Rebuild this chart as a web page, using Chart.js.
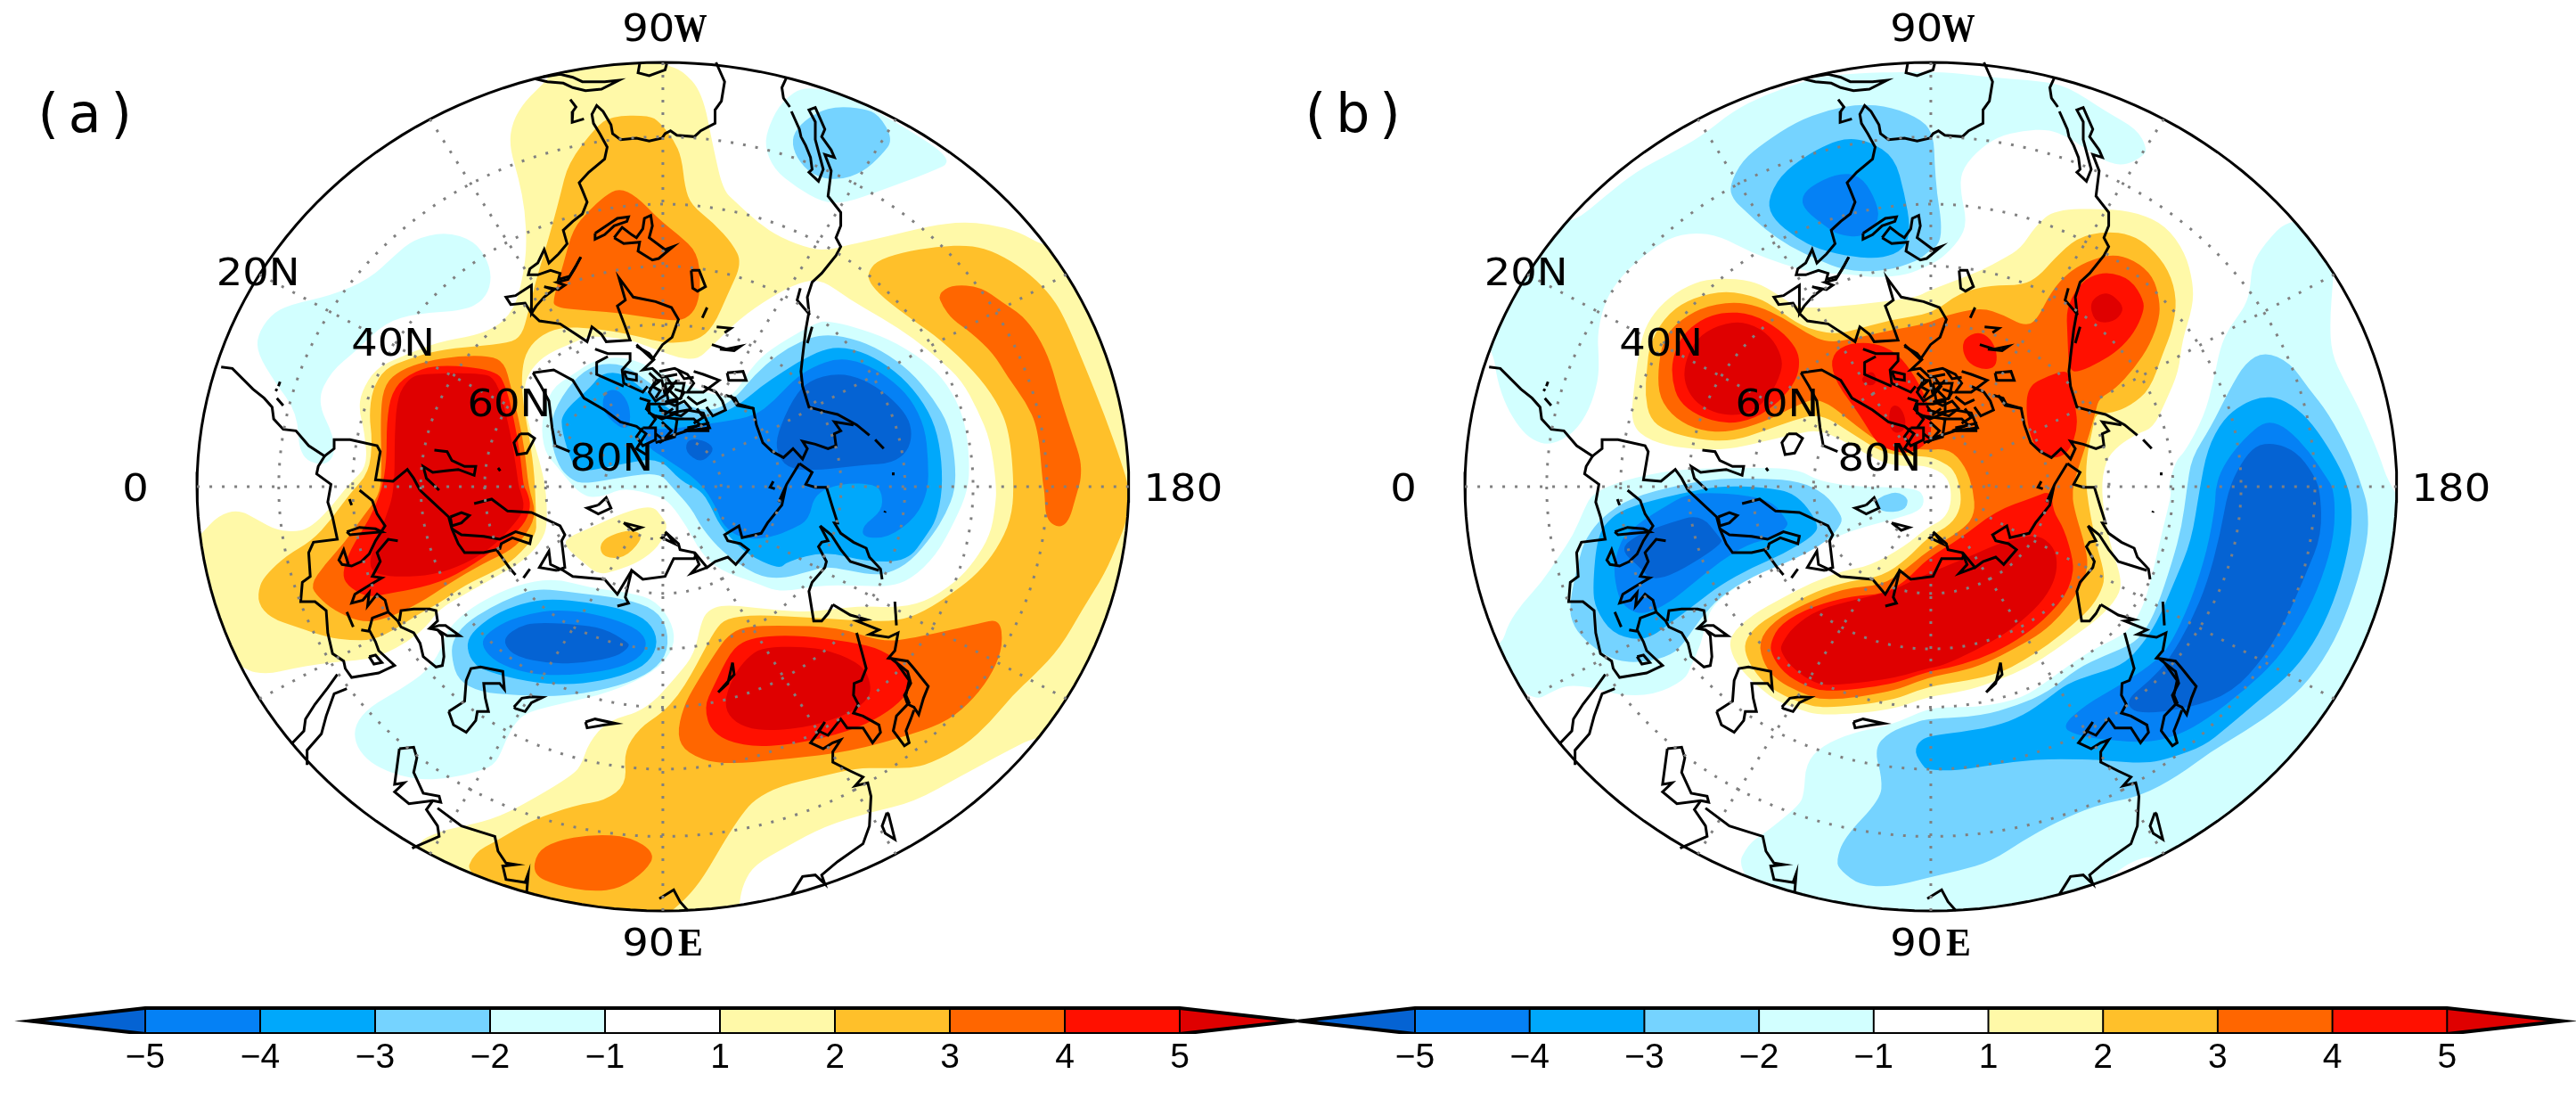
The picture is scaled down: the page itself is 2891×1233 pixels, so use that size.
<!DOCTYPE html>
<html>
<head>
<meta charset="utf-8">
<title>Polar anomaly maps</title>
<script src="https://cdn.jsdelivr.net/npm/chart.js@4/dist/chart.umd.min.js"></script>
<style>
html, body { margin: 0; background: #fff; }
canvas { position: absolute; }
</style>
</head>
<body>
<canvas id="mapA" style="left:0;top:0"></canvas>
<canvas id="mapB" style="left:1423px;top:0"></canvas>
<canvas id="barA" style="left:0;top:1110px"></canvas>
<canvas id="barB" style="left:1457px;top:1110px"></canvas>
<script>
// colour bar
const barLabels = ['\u22125', '\u22124', '\u22123', '\u22122', '\u22121', '1', '2', '3', '4', '5'];
const barColors = ['#0581f5', '#00a8fb', '#75d3ff', '#d2ffff', '#ffffff', '#fff9a8', '#ffc02a', '#ff6600', '#ff1000'];
const lowEndColor = '#0563d3', highEndColor = '#df0000';

// map labels
const ringLabels = ['20N', '40N', '60N', '80N'];
const sideLabels = ['0', '180'];
const ringLats = [30, 40, 50, 60, 70, 80];
const meridians = [0, 30, 60, 90, 120, 150, 180, 210, 240, 270, 300, 330];

// panel (a) filled contours, flat x,y lists on the map plane
const aP1 = [
 [1150,130,1200,60,1532,40,1532,70,1582,85,1647,160,1682,350,1712,490,1752,530,1822,600,1892,650,1992,690,2052,690,2082,680,2212,650,2362,610,2462,597,2552,605,2642,630,2722,680,3100,800,3100,2300,2712,2320,2602,2380,2462,2460,2312,2550,2172,2585,2032,2630,1912,2700,1812,2760,1777,2820,1762,2890,1762,3000,700,3000,735,2690,830,2645,900,2630,1010,2600,1130,2530,1230,2465,1265,2430,1290,2350,1350,2275,1470,2240,1572,2120,1622,2050,1642,1950,1662,1905,1712,1885,1812,1895,1892,1905,1982,1910,2052,1900,2152,1890,2242,1895,2342,1880,2442,1810,2502,1740,2552,1650,2567,1560,2572,1488,2552,1330,2512,1230,2462,1130,2392,1060,2312,990,2212,920,2112,860,2022,790,1952,800,1862,850,1762,925,1672,1020,1632,1060,1572,1055,1512,1030,1410,990,1290,980,1250,1000,1160,1040,1110,1090,1085,1150,1095,1250,1115,1330,1135,1400,1155,1490,1160,1600,1150,1660,1090,1735,1000,1790,900,1850,820,1900,780,1960,720,2010,650,2050,590,2070,530,2075,440,2085,360,2100,280,2120,205,2105,100,2000,20,1700,70,1650,125,1585,190,1565,250,1600,310,1635,380,1640,420,1620,470,1570,540,1475,595,1420,585,1300,568,1230,575,1170,620,1090,700,1050,820,1000,930,980,1000,950,1040,910,1065,860,1085,770,1095,680,1090,560,1070,450,1040,340,1050,260,1090,190],
 [1220,1660,1300,1625,1400,1575,1490,1550,1520,1590,1540,1620,1510,1690,1450,1740,1380,1770,1320,1785,1270,1740,1215,1690]
];
const aP2 = [
 [1360,240,1480,238,1512,260,1557,320,1582,380,1592,480,1612,540,1682,600,1742,670,1772,735,1727,840,1682,950,1632,995,1562,1005,1512,1000,1420,975,1310,955,1200,950,1130,985,1090,1040,1078,1120,1085,1220,1105,1330,1120,1450,1125,1600,1125,1650,1060,1730,1000,1770,900,1820,820,1880,750,1920,680,1970,610,2005,540,2005,470,1995,370,1960,290,1930,250,1880,255,1820,280,1780,340,1720,420,1670,480,1600,540,1510,600,1440,610,1330,600,1250,610,1160,650,1090,720,1060,810,1030,930,1015,1040,1005,1080,980,1100,900,1125,790,1165,650,1200,510,1225,400,1310,280],
 [2167,770,2192,730,2272,700,2382,680,2492,675,2572,700,2662,760,2732,830,2782,910,2852,1090,2912,1250,2962,1400,2990,1500,2982,1600,2952,1680,2912,1780,2842,1900,2772,2030,2692,2120,2622,2190,2552,2280,2472,2360,2362,2420,2302,2435,2212,2435,2132,2435,2012,2465,1892,2495,1812,2540,1772,2590,1722,2670,1652,2800,1597,2875,1512,2950,1300,3000,900,2800,930,2720,1000,2680,1110,2610,1250,2560,1340,2545,1410,2490,1400,2380,1450,2300,1520,2250,1572,2190,1612,2120,1642,2060,1687,1970,1722,1930,1812,1920,1912,1925,2012,1930,2152,1940,2262,1940,2342,1910,2442,1840,2512,1780,2572,1700,2617,1600,2627,1488,2612,1300,2572,1200,2502,1100,2392,990,2312,930,2212,850,2172,800],
 [1325,1670,1400,1635,1450,1640,1455,1670,1400,1730,1330,1725]
];
const aP3 = [
 [1385,483,1440,510,1512,590,1572,640,1632,700,1642,800,1632,880,1597,925,1542,930,1400,905,1290,895,1180,885,1180,850,1210,740,1240,620,1290,560,1340,510],
 [780,1065,880,1048,980,1048,1025,1070,1045,1150,1070,1260,1090,1370,1100,1488,1125,1575,1100,1640,1050,1700,960,1745,850,1815,760,1880,650,1935,575,1945,490,1905,440,1860,415,1820,460,1750,520,1680,580,1590,630,1520,640,1450,635,1230,650,1140,700,1095],
 [2387,840,2432,808,2522,815,2592,870,2652,910,2702,980,2742,1070,2772,1190,2812,1320,2837,1400,2837,1460,2827,1500,2792,1630,2727,1610,2722,1500,2717,1480,2702,1290,2662,1200,2607,1120,2562,1040,2492,970,2432,925,2402,880],
 [1777,1958,1897,1955,2072,1960,2212,2010,2302,2000,2512,1950,2582,1932,2592,2020,2562,2110,2502,2200,2422,2275,2312,2320,2112,2380,1912,2405,1702,2425,1597,2385,1567,2325,1587,2230,1622,2160,1692,2040,1727,1990],
 [1185,2680,1300,2658,1420,2665,1500,2722,1470,2780,1390,2840,1300,2852,1190,2830,1115,2795,1125,2720]
];
const aP4 = [
 [815,1075,1000,1095,1030,1150,1055,1260,1075,1380,1085,1488,1095,1500,1110,1555,1085,1620,1020,1680,900,1770,800,1820,650,1850,590,1860,530,1820,515,1780,540,1700,600,1600,640,1500,655,1400,655,1270,670,1170,720,1110],
 [1852,1990,1962,1990,2112,2010,2212,2035,2292,2100,2302,2150,2282,2200,2212,2260,2112,2310,1942,2355,1782,2365,1677,2320,1652,2230,1682,2160,1737,2040,1782,2005]
];
const aP5 = [
 [760,1108,960,1105,1000,1130,1030,1240,1055,1370,1070,1488,1075,1500,1090,1560,1060,1610,990,1690,900,1750,800,1785,700,1792,630,1785,600,1760,610,1700,650,1600,680,1500,680,1300,690,1180,725,1125],
 [1842,2030,1952,2025,2052,2040,2152,2090,2177,2150,2172,2200,2112,2250,1992,2295,1862,2310,1782,2300,1727,2260,1717,2200,1752,2110,1802,2050]
];
const aN1 = [
 [840,630,930,660,975,730,985,800,960,860,900,895,750,905,650,935,560,1030,480,1100,435,1200,490,1320,490,1390,450,1420,380,1385,375,1240,300,1130,250,1040,248,980,290,910,350,875,480,845,600,790,680,710,740,655],
 [1972,135,2112,180,2272,270,2442,390,2362,430,2212,490,2092,535,2022,530,1942,480,1872,420,1842,340,1857,270,1897,190],
 [1170,1160,1240,1110,1310,1060,1400,1050,1500,1090,1600,1150,1720,1190,1752,1170,1812,1070,1882,1010,2007,935,2042,930,2122,950,2232,990,2342,1060,2417,1140,2472,1260,2487,1400,2482,1500,2442,1600,2382,1720,2302,1800,2232,1825,2132,1820,2012,1820,1892,1845,1812,1810,1702,1770,1642,1710,1597,1620,1547,1545,1512,1520,1400,1490,1340,1520,1270,1525,1190,1420,1150,1370,1140,1270],
 [1180,1795,1300,1830,1420,1845,1500,1870,1555,1950,1560,2030,1500,2110,1360,2180,1200,2220,1100,2245,1060,2280,1030,2340,1000,2420,950,2445,850,2470,750,2475,650,2445,590,2405,555,2350,555,2290,600,2230,700,2170,780,2110,825,2040,840,1980,890,1920,960,1870,1060,1820]
];
const aN2 = [
 [2072,208,2152,215,2202,235,2247,320,2212,370,2152,430,2072,458,1992,440,1942,380,1927,320,1952,270,2012,225],
 [1175,1240,1240,1130,1310,1075,1400,1075,1470,1130,1560,1200,1672,1240,1752,1190,1812,1110,1882,1045,1952,1000,2022,975,2112,985,2212,1030,2302,1100,2372,1190,2422,1280,2442,1400,2442,1500,2412,1580,2372,1650,2302,1740,2232,1780,2172,1785,2042,1755,1992,1770,1892,1800,1812,1785,1712,1710,1647,1630,1612,1560,1552,1490,1512,1440,1400,1455,1270,1480,1230,1460,1195,1420,1170,1330],
 [1130,1830,1250,1845,1400,1865,1500,1900,1540,1970,1535,2060,1470,2125,1350,2170,1200,2195,1060,2190,950,2180,880,2140,860,2070,860,2010,900,1950,980,1895,1060,1855]
];
const aN3 = [
 [1205,1240,1300,1150,1330,1105,1400,1105,1470,1170,1560,1240,1612,1270,1712,1240,1772,1205,1832,1150,1902,1100,1962,1060,2052,1015,2142,1030,2232,1080,2312,1160,2372,1260,2397,1370,2402,1500,2382,1600,2352,1650,2292,1740,2162,1740,2032,1705,1912,1740,1892,1765,1812,1730,1762,1690,1702,1620,1672,1550,1642,1500,1580,1470,1512,1390,1400,1410,1270,1440,1240,1420,1205,1300],
 [1170,1865,1290,1878,1400,1900,1480,1940,1510,2010,1480,2080,1400,2125,1260,2155,1130,2150,1000,2120,930,2090,905,2030,920,1980,990,1920,1080,1880]
];
const aN4 = [
 [1512,1300,1712,1270,1812,1250,1872,1200,1932,1130,1992,1085,2072,1055,2152,1070,2232,1120,2302,1190,2347,1290,2357,1400,2357,1500,2320,1590,2232,1660,2152,1660,2150,1620,2212,1570,2212,1510,2190,1480,2090,1475,2000,1510,1982,1600,1932,1630,1862,1660,1772,1665,1712,1620,1692,1560,1640,1470,1512,1380,1470,1350,1460,1280],
 [1340,1165,1385,1160,1420,1215,1420,1290,1385,1290,1330,1230],
 [1180,1903,1280,1910,1390,1940,1460,1980,1475,2030,1430,2080,1340,2110,1200,2125,1090,2115,1000,2080,955,2030,960,1990,1030,1940,1110,1915]
];
const aN5 = [
 [2072,1105,2152,1125,2232,1180,2292,1250,2307,1310,2292,1370,2242,1410,2152,1415,1992,1435,1912,1425,1880,1370,1882,1310,1932,1190,1982,1130],
 [1602,1325,1662,1335,1687,1365,1642,1410,1592,1370],
 [1120,1945,1240,1950,1340,1965,1410,2010,1420,2025,1380,2060,1280,2080,1170,2085,1060,2060,1025,2020,1030,1990,1070,1960]
];

// panel (b) filled contours
const bP1 = [
 [860,785,960,795,1020,825,1100,885,1180,885,1250,880,1380,865,1480,850,1512,830,1612,790,1682,760,1752,720,1807,685,1852,610,1912,555,2072,552,2172,565,2262,610,2322,700,2347,800,2347,880,2312,1000,2302,1100,2262,1200,2222,1290,2172,1310,2112,1350,2072,1400,2057,1500,2082,1670,2124,1800,2112,1860,2052,1930,1962,2000,1872,2070,1782,2120,1682,2160,1612,2180,1512,2195,1400,2240,1180,2260,1100,2235,1040,2210,990,2170,930,2110,895,2050,890,1990,960,1920,1060,1860,1150,1810,1250,1770,1330,1755,1440,1690,1512,1625,1562,1600,1587,1550,1585,1480,1560,1440,1496,1415,1420,1420,1356,1400,1276,1350,1176,1295,1100,1310,1040,1325,980,1340,880,1365,750,1360,640,1335,580,1280,590,1150,610,1000,640,920,700,850,780,800]
];
const bP2 = [
 [880,828,980,850,1040,890,1120,950,1210,975,1270,965,1400,925,1530,905,1612,835,1712,810,1812,810,1862,780,1912,720,1982,650,2072,628,2152,640,2212,680,2272,760,2297,860,2282,960,2252,1040,2212,1160,2152,1215,2092,1240,2042,1240,2032,1290,2012,1390,2010,1500,2042,1680,2067,1770,2067,1820,2032,1890,1972,1950,1892,2020,1812,2075,1742,2115,1642,2140,1512,2160,1400,2210,1190,2235,1110,2215,1040,2180,990,2140,945,2070,935,2010,980,1950,1060,1900,1160,1840,1270,1805,1370,1790,1450,1730,1512,1660,1587,1615,1617,1560,1617,1500,1597,1430,1552,1400,1512,1385,1436,1385,1366,1370,1276,1310,1176,1240,1090,1265,1000,1300,900,1335,790,1330,690,1300,640,1260,625,1180,630,1100,640,1000,700,900,780,850]
];
const bP3 = [
 [900,865,980,880,1060,920,1130,970,1200,1005,1300,985,1400,960,1512,940,1572,910,1682,885,1752,910,1812,945,1852,935,1902,830,1952,770,2012,730,2092,705,2162,725,2222,780,2242,860,2242,920,2212,1010,2162,1090,2102,1160,2052,1190,2042,1230,2022,1310,1982,1440,1967,1500,1972,1560,2012,1700,2017,1770,1982,1850,1932,1920,1872,1980,1792,2030,1692,2085,1612,2110,1512,2130,1400,2180,1190,2210,1110,2180,1040,2140,1000,2090,980,2010,1030,1940,1120,1885,1250,1830,1370,1820,1440,1770,1512,1705,1627,1630,1662,1580,1657,1500,1632,1420,1582,1360,1496,1365,1376,1350,1296,1290,1176,1185,1100,1215,1000,1270,890,1305,800,1300,720,1260,670,1190,665,1100,680,1000,720,940,800,885]
];
const bP4 = [
 [870,900,960,905,1050,960,1100,1020,1112,1070,1100,1130,1050,1200,970,1260,880,1278,790,1250,730,1200,710,1130,710,1060,740,980,800,925],
 [1206,1060,1246,1010,1336,1000,1416,1035,1476,1120,1520,1220,1526,1290,1516,1340,1456,1380,1376,1360,1346,1330,1296,1240,1226,1140],
 [1672,965,1712,990,1732,1040,1727,1085,1692,1095,1642,1075,1622,1030,1627,990],
 [2082,765,2152,790,2192,860,2192,900,2162,970,2112,1030,2052,1070,1992,1100,1957,1100,1952,970,1949,890,1982,820,2022,780],
 [1952,1095,1957,1130,1982,1240,1982,1300,1962,1360,1932,1390,1882,1390,1842,1340,1822,1250,1827,1150,1892,1115],
 [1050,1950,1150,1890,1280,1855,1370,1850,1440,1810,1512,1730,1612,1665,1727,1570,1842,1525,1902,1500,1907,1570,1942,1630,1972,1740,1967,1800,1942,1860,1902,1910,1852,1960,1772,2020,1672,2070,1572,2100,1512,2110,1400,2155,1200,2180,1130,2160,1060,2115,1020,2050,1020,2010]
];
const bP5 = [
 [880,935,950,935,1020,980,1055,1050,1055,1100,1020,1180,960,1240,880,1250,800,1220,760,1170,745,1110,760,1040,800,975],
 [1305,1120,1340,1095,1355,1130,1340,1150,1310,1140],
 [1395,1215,1425,1215,1445,1260,1440,1300,1410,1310,1390,1280],
 [2077,830,2122,870,2127,900,2097,935,2042,935,2024,890,2032,855],
 [1055,2015,1090,1960,1170,1900,1300,1865,1400,1840,1512,1780,1642,1725,1732,1680,1852,1645,1912,1690,1922,1760,1902,1830,1852,1900,1762,1980,1662,2040,1562,2090,1512,2100,1400,2135,1200,2160,1140,2140,1080,2090,1050,2040]
];
const bN1 = [
 [400,600,500,510,600,425,700,370,800,310,900,225,1000,170,1110,130,1200,100,1540,88,1702,110,1862,122,1952,140,2072,225,2172,285,2202,350,2192,375,2132,408,2072,395,2002,345,1952,310,1892,285,1812,290,1732,310,1662,365,1617,430,1617,500,1637,600,1612,660,1557,720,1512,745,1450,775,1350,785,1250,770,1160,770,1060,740,960,700,860,645,780,632,700,650,620,710,550,780,500,860,475,970,480,1060,478,1130,450,1230,400,1310,325,1350,270,1330,230,1290,190,1220,160,1130,148,1030,20,800,300,600],
 [175,2020,195,1950,240,1880,300,1810,350,1730,400,1650,435,1560,460,1510,560,1465,720,1430,900,1425,1100,1425,1170,1470,1300,1490,1480,1490,1505,1530,1490,1570,1400,1600,1290,1630,1150,1690,1090,1735,960,1790,840,1880,815,1950,800,2020,770,2090,750,2140,650,2190,540,2190,470,2165,380,2155,330,2180,275,2210,150,2100,120,2020],
 [2647,585,2572,670,2532,740,2527,820,2512,880,2462,950,2432,1020,2412,1130,2382,1250,2322,1370,2292,1400,2267,1500,2282,1500,2252,1630,2222,1770,2192,1890,2142,1980,2052,2025,1982,2070,1892,2140,1812,2200,1682,2230,1572,2230,1512,2235,1400,2290,1280,2315,1180,2360,1130,2420,1125,2520,1110,2560,1000,2655,950,2690,910,2775,1100,3000,1800,3000,2102,2790,2152,2750,2232,2725,2400,2800,3100,2400,3100,1700,2962,1480,2932,1380,2872,1230,2822,1130,2782,1040,2777,930,2787,790,2800,600]
];
const bN2 = [
 [1300,200,1400,210,1500,255,1532,310,1535,400,1542,500,1557,600,1552,670,1512,700,1480,730,1370,765,1250,760,1170,725,1080,680,1000,620,940,560,900,520,890,475,930,390,1000,330,1100,260,1200,220],
 [580,1525,740,1480,860,1460,1000,1460,1110,1470,1190,1510,1240,1580,1245,1610,1200,1670,1100,1730,960,1790,860,1860,800,1930,750,2010,710,2055,620,2080,530,2075,450,2020,400,1960,385,1890,420,1720,440,1660,490,1590],
 [1420,1505,1455,1530,1440,1570,1370,1575,1340,1540,1380,1515],
 [2572,1033,2652,1070,2712,1160,2772,1240,2842,1380,2882,1500,2897,1560,2897,1670,2852,1850,2792,2010,2712,2140,2622,2230,2512,2310,2402,2380,2302,2460,2182,2530,2042,2560,1912,2620,1812,2680,1712,2750,1612,2780,1512,2805,1400,2835,1300,2830,1240,2780,1225,2750,1250,2670,1365,2540,1370,2470,1345,2370,1390,2315,1480,2280,1512,2270,1682,2260,1792,2225,1892,2180,1982,2100,2072,2055,2152,2020,2192,1980,2232,1900,2282,1740,2312,1620,2327,1500,2342,1390,2402,1290,2462,1160,2512,1070]
];
const bN3 = [
 [1260,315,1330,325,1410,380,1440,500,1460,620,1440,690,1370,720,1280,715,1170,690,1100,650,1030,590,1008,530,1050,440,1130,375,1200,335],
 [630,1540,740,1510,860,1485,1000,1490,1100,1510,1170,1610,1160,1650,1060,1715,960,1760,860,1820,800,1870,700,1950,650,1990,600,2005,520,1980,470,1900,460,1830,475,1650,520,1590,570,1560],
 [2562,1185,2622,1190,2692,1240,2752,1320,2812,1430,2837,1500,2847,1560,2842,1670,2802,1840,2742,1990,2662,2110,2562,2200,2452,2300,2382,2360,2282,2400,2202,2420,2072,2410,2012,2405,1852,2405,1712,2425,1592,2445,1512,2440,1500,2430,1470,2380,1490,2340,1530,2325,1612,2315,1722,2295,1812,2260,1892,2200,1952,2150,2032,2120,2122,2090,2172,2040,2232,1950,2292,1800,2342,1670,2367,1500,2392,1360,2442,1260,2502,1210]
];
const bN4 = [
 [1230,432,1300,440,1345,510,1365,590,1310,650,1230,640,1190,610,1130,560,1115,520,1140,480],
 [680,1560,760,1510,880,1510,1020,1530,1070,1600,1075,1620,1030,1660,950,1680,860,1740,780,1810,700,1880,620,1920,570,1900,540,1860,525,1760,540,1700,560,1650,620,1600],
 [2587,1267,2642,1290,2712,1370,2762,1450,2792,1500,2792,1650,2752,1800,2692,1940,2612,2070,2512,2170,2392,2270,2302,2325,2202,2350,2072,2340,1982,2325,1932,2295,2012,2220,2112,2160,2212,2090,2272,2030,2342,1870,2392,1700,2417,1550,2417,1500,2432,1440,2472,1370,2542,1290]
];
const bN5 = [
 [800,1580,860,1660,870,1675,800,1730,700,1790,640,1800,610,1760,545,1700,600,1650,700,1610],
 [2602,1340,2672,1370,2722,1440,2747,1500,2752,1650,2702,1780,2642,1930,2572,2060,2472,2180,2332,2235,2172,2255,2132,2210,2212,2140,2272,2070,2342,1940,2392,1810,2432,1650,2457,1500,2497,1410,2542,1350]
];

// coastlines shared by both panels
const coastLines = [
 [1120,115,1160,125,1210,130,1240,145,1280,155,1330,150,1385,120,1340,125,1270,125,1240,110,1200,100,1140,110],
 [1450,65,1445,95,1480,105,1530,85,1535,65],
 [1232,185,1250,210,1240,225,1238,262,1275,250],
 [1690,60,1717,125,1707,190,1687,220,1687,265,1642,290,1622,310,1567,305,1547,290,1530,300,1520,315,1480,325,1440,315,1390,320,1365,300,1360,270,1335,225,1315,205,1300,235,1305,265,1325,300,1348,345,1340,385,1290,430,1260,465,1270,490,1285,530,1270,570,1240,595,1210,625,1222,670,1195,705,1165,735,1150,690,1130,735,1105,755,1100,775,1130,775,1170,760,1200,770,1195,790,1230,780,1250,745,1265,715],
 [1265,715,1245,755,1225,790,1190,800,1215,810,1195,825,1150,815,1180,825,1150,850,1125,880,1110,905,1110,810,1060,845,1030,850,1045,875,1090,870,1110,905,1135,930,1200,940,1250,975,1285,1000,1300,950,1330,975,1345,1000,1420,995,1405,950,1380,880,1405,860,1385,785,1430,850,1500,865,1550,885,1572,925,1552,985,1522,1010,1490,1060,1440,1010],
 [1310,635,1380,585,1415,580,1410,595,1370,610,1340,640,1310,655,1310,635],
 [1370,650,1395,615,1425,640,1440,650,1460,620,1465,585,1485,575,1490,610,1480,650,1530,690,1555,680,1510,720,1490,725,1445,695,1450,665,1400,670,1370,650],
 [1612,760,1637,760,1657,815,1632,830,1617,820,1612,760],
 [1662,885,1647,920],[1692,950,1737,955,1717,970],[1677,1010,1722,1025,1767,1015,1747,1030,1702,1025],
 [1725,1105,1775,1100,1785,1130,1730,1130,1725,1105],
 [1912,110,1897,145,1902,180,1922,210],
 [1927,225,1952,285,1957,310,1972,340,1987,380,1992,420,1982,430,2012,460,2027,420,2002,320,2002,260,1982,220,2002,212,2032,285,2022,310,2052,355,2062,380,2032,370,2052,425,2042,510,2082,565,2082,610,2067,650,2082,680,2067,710,2022,770,1992,800,1977,850,1982,900,1972,960,1962,1050,1957,1100,1962,1150,1982,1220,2032,1235,2072,1245,2132,1280,2172,1315],
 [2190,1330,2217,1360],[1992,950,1977,1005],[1955,820,1945,860,1985,910],
 [1735,1180,1757,1215,1807,1225,1817,1280,1837,1340,1867,1370,1902,1390,1932,1360,1962,1395,1977,1360,1962,1335,2002,1345,2042,1360,2067,1350,2062,1310,2082,1300,2062,1270,2122,1280],
 [1870,1470,1860,1490,1875,1495],[2247,1440,2247,1450],[2222,1570,2220,1575],
 [1952,1410,1992,1440,1972,1480,2002,1490,2037,1490,2057,1560,2072,1610,2062,1610,2082,1645,2122,1675,2162,1695,2172,1725,2207,1765,2212,1800],
 [1952,1410,1912,1480,1887,1540,1907,1500,1897,1550,1852,1610,1832,1645,1772,1660,1762,1620,1717,1650,1727,1670,1767,1680,1792,1700,1752,1750,1727,1725,1687,1740,1662,1760,1627,1715,1622,1730,1557,1730,1530,1790,1460,1800,1425,1770,1405,1860,1415,1880,1380,1890],
 [1425,1770,1380,1850,1340,1800,1240,1790,1210,1770,1170,1750,1165,1705,1135,1760,1190,1770],
 [2017,1620,2052,1650,2082,1700,2112,1740,2202,1770],
 [2017,1620,2042,1670,2022,1675,2012,1690,2037,1740,2032,1760,1992,1810,1982,1840,1997,1940,2022,1940,2042,1915,2057,1885],
 [2252,1875,2257,1955],
 [2057,1885,2112,1920,2162,1935,2132,1940,2202,1970,2172,1985,2232,1995,2262,1980,2252,2040,2232,2065,2292,2075,2312,2100,2357,2160,2342,2200,2327,2255,2312,2230,2292,2220,2282,2190,2302,2150,2292,2110,2232,2060],
 [2257,2080,2297,2140,2287,2190,2297,2215,2257,2260,2247,2310,2282,2360,2297,2350,2287,2310,2302,2270,2312,2240],
 [2132,1980,2152,2060,2162,2100,2147,2140,2124,2150,2122,2190,2137,2220,2122,2250,2152,2260,2202,2290,2207,2315,2182,2350,2152,2300,2102,2300,2082,2270,2042,2325,2012,2310,2032,2280,2012,2315,1987,2350,2027,2370,2057,2350,2082,2340,2057,2380,2057,2415,2112,2445,2152,2465,2127,2495,2167,2485,2177,2530,2172,2630,2152,2690,2072,2750,2022,2795,2032,2825,2002,2795,1962,2800,1927,2860],
 [2227,2585,2212,2630,2222,2655,2252,2675,2232,2590,2227,2585],
 [1742,2080,1747,2120,1697,2180,1727,2150,1742,2080],
 [1512,2875,1557,2845,1577,2885,1602,2915],
 [1530,1640,1572,1680,1577,1700,1622,1710,1637,1750,1612,1780,1662,1760],
 [135,1085,170,1090,235,1160,270,1190,295,1220,300,1260,330,1295,370,1300,410,1350,460,1385,440,1420,435,1445,480,1480,470,1540,485,1590,500,1665,425,1675,410,1710,415,1790,390,1810,385,1875,430,1875,465,1905,470,1980,485,2050,520,2075,525,2100,545,2130,630,2115,680,2090,660,2070,630,2040,620,2010,600,1970,610,1930,660,1910,690,1940,700,1960,740,1980,760,2015,770,2060,810,2095,830,2090,835,2060,830,1990,815,1970,790,1965,815,1940,810,1905,790,1900,740,1900,700,1905,695,1940],
 [460,1385,490,1360,490,1330,540,1330,625,1350,635,1370,620,1465,675,1470,720,1430,740,1460,760,1500],
 [320,1135,315,1150],[305,1160,312,1165],[310,1190,330,1215],
 [805,1365,845,1370,860,1400,900,1420,935,1420,930,1450,880,1430,840,1435,800,1440,770,1420,780,1460,820,1500],
 [760,1500,800,1540,850,1590,860,1630,880,1680,900,1710,960,1710,1000,1700,1040,1760,1060,1785],
 [860,1630,890,1650,960,1655,1010,1665,1060,1640,1110,1655,1105,1680,1050,1660,1015,1680,1010,1700],
 [930,1545,985,1530,1035,1570,1110,1575,1200,1620,1215,1650,1205,1670,1215,1760,1190,1770],
 [855,1590,890,1575,915,1585,890,1610,860,1620,855,1590],
 [1075,1310,1100,1310,1120,1325,1095,1375,1065,1380,1055,1340,1075,1310],[1005,1425,1012,1435],
 [530,1640,570,1625,620,1630,640,1640,590,1645,540,1650,530,1640],
 [570,1500,610,1535,625,1580,650,1620,620,1670,600,1715,575,1740,545,1755,515,1750,505,1735,520,1700,535,1750],
 [690,1670,660,1665,625,1710,635,1740,610,1790,640,1795,600,1820,555,1850,545,1880,580,1870,600,1845,595,1890,625,1850,650,1870,660,1910],
 [530,1910,550,1960],[575,1970,600,1975],[538,1530,545,1550],
 [790,1965,820,1955,840,1955,885,1990,845,1990,815,1970],
 [500,2120,470,2165,430,2220,400,2270,395,2310,355,2355],
 [530,2168,490,2185,465,2260,450,2320,405,2375,405,2425],
 [600,2060,620,2055,640,2080,615,2085,600,2060],
 [695,2370,740,2365,750,2400,740,2450,770,2520,820,2530,825,2550,800,2545,725,2555,680,2515,710,2485,680,2490,690,2410,695,2370],
 [800,2545,780,2575,815,2630,820,2665,735,2705],
 [815,2570,890,2630,950,2650,995,2665,1005,2715,1030,2755,1060,2760,1020,2765,1030,2810,1090,2820,1100,2790,1095,2855],
 [850,2245,900,2210,905,2140,920,2100,950,2095,1020,2110,1025,2170,1010,2150,960,2150,965,2200,975,2245,940,2245,935,2275,905,2315,865,2290,850,2245],
 [1055,2230,1080,2200,1110,2195,1145,2197,1110,2215,1090,2245,1060,2235,1055,2230],
 [1280,2280,1310,2270,1375,2285,1340,2290,1285,2300,1280,2280],
 [1085,1795,1105,1765],
 [1320,1550,1345,1525,1360,1560,1320,1580,1285,1560,1320,1550],
 [1400,1610,1455,1625,1430,1635,1400,1610],
 [1535,1645,1560,1680,1520,1660,1535,1645],
 [1115,1105,1140,1150,1165,1200,1175,1290,1185,1350,1230,1370],
 [1115,1105,1180,1095,1240,1130,1275,1190,1340,1230,1390,1270,1440,1285,1470,1310,1440,1360,1470,1380],
 [1310,1025,1350,1040,1420,1040,1420,1065,1395,1095,1400,1140,1460,1170,1475,1150],
 [1315,1070,1350,1050,1315,1070,1315,1110,1400,1150],
 [1440,1015,1480,1040,1495,1060,1460,1095,1490,1090,1520,1120,1568,1110],
 [1400,1100,1440,1110,1440,1130,1410,1125,1400,1100],
 [1500,1130,1480,1170,1500,1200,1530,1180,1520,1130,1500,1130],
 [1480,1210,1530,1210,1568,1200,1568,1240,1520,1260,1480,1240,1480,1210],
 [1460,1290,1500,1290,1500,1330,1460,1350,1440,1320,1460,1290],
 [1500,1250,1568,1260,1560,1320,1500,1340],
 [1568,1130,1540,1160,1568,1190],
 [1512,1100,1560,1090,1600,1110,1620,1140,1600,1170,1650,1170,1700,1130,1650,1110,1620,1100],
 [1530,1140,1590,1140,1580,1190,1540,1200,1530,1140],
 [1512,1230,1550,1240,1600,1230,1650,1240,1670,1290,1600,1300,1540,1320,1512,1340],
 [1560,1260,1620,1260,1640,1280,1590,1300],
 [1650,1150,1690,1170,1710,1200,1720,1230,1680,1250,1660,1220],
 [1720,1180,1750,1190,1760,1210,1810,1225],
 [1600,1290,1665,1275,1665,1300,1600,1300],
 [1490,1150,1515,1165,1500,1190],[1535,1120,1555,1150,1535,1175],[1510,1215,1530,1245,1555,1225],
 [1530,1200,1560,1215,1590,1200,1610,1225,1580,1250,1545,1240],
 [1470,1225,1500,1260,1480,1290],[1520,1270,1550,1300,1525,1330,1500,1310],
 [1570,1095,1590,1125,1620,1120],[1600,1185,1630,1210,1660,1195],
 [1480,1105,1510,1135,1480,1160],[1450,1190,1480,1200,1470,1230],
 [1560,1160,1590,1170,1575,1195],[1630,1225,1650,1255,1620,1275]
];

// map plane geometry
const POLE_X = 1523, POLE_Y = 1488, RIM_X = 1464, RIM_Y = 1428;
const toPoints = flat => {
  const pts = [];
  for (let i = 0; i < flat.length; i += 2) pts.push({ x: flat[i], y: flat[i + 1] });
  return pts;
};
// stereographic radius, rim is 20N
const ringRadius = lat => Math.tan((90 - lat) / 2 * Math.PI / 180) / Math.tan(35 * Math.PI / 180);
const planePoint = (lat, lon) => {
  const r = ringRadius(lat), a = lon * Math.PI / 180; // 0 on the left, 90W at the top
  return { x: POLE_X - r * RIM_X * Math.cos(a), y: POLE_Y + r * RIM_Y * Math.sin(a) };
};

const fillSet = (color, rings) => rings.map(r => ({
  data: toPoints(r), fillColor: color, showLine: false, pointRadius: 0
}));
const lineSet = (data, color, width, dash) => ({
  data, showLine: true, pointRadius: 0, borderColor: color, borderWidth: width, borderDash: dash || [], fill: false, tension: 0
});

const contourFill = {
  id: 'contourFill',
  beforeDatasetsDraw(chart, args, opts) {
    const ctx = chart.ctx, xs = chart.scales.x, ys = chart.scales.y;
    ctx.save();
    if (opts.rim) {
      const cx = xs.getPixelForValue(POLE_X), cy = ys.getPixelForValue(POLE_Y);
      ctx.beginPath();
      ctx.ellipse(cx, cy, xs.getPixelForValue(POLE_X + RIM_X) - cx, ys.getPixelForValue(POLE_Y + RIM_Y) - cy, 0, 0, Math.PI * 2);
      ctx.clip();
    }
    chart.data.datasets.forEach((ds, i) => {
      if (!ds.fillColor) return;
      const p = chart.getDatasetMeta(i).data, n = p.length;
      ctx.beginPath();
      if (opts.rim) {
        // rounded through the midpoints, the contours are smooth
        ctx.moveTo((p[n - 1].x + p[0].x) / 2, (p[n - 1].y + p[0].y) / 2);
        for (let k = 0; k < n; k++) {
          const q = p[(k + 1) % n];
          ctx.quadraticCurveTo(p[k].x, p[k].y, (p[k].x + q.x) / 2, (p[k].y + q.y) / 2);
        }
      } else {
        p.forEach((q, k) => k ? ctx.lineTo(q.x, q.y) : ctx.moveTo(q.x, q.y));
      }
      ctx.closePath();
      ctx.fillStyle = ds.fillColor;
      ctx.fill();
    });
    ctx.restore();
  }
};

const stretchedText = (ctx, text, x, y, font, sx) => {
  ctx.save();
  ctx.translate(x, y);
  ctx.scale(sx, 1);
  ctx.font = font;
  ctx.fillStyle = '#000';
  ctx.textAlign = 'center';
  ctx.textBaseline = 'middle';
  ctx.fillText(text, 0, 0);
  ctx.restore();
};

const mapText = {
  id: 'mapText',
  afterDatasetsDraw(chart, args, opts) {
    const ctx = chart.ctx, xs = chart.scales.x, ys = chart.scales.y;
    const put = (t, u, v, font, sx) => stretchedText(ctx, t, xs.getPixelForValue(u), ys.getPixelForValue(v), font, sx);
    const sans = '43px "DejaVu Sans"', serif = 'bold 44px "Liberation Serif"';
    [[251, 777], [675, 1014], [1040, 1216], [1362, 1401]].forEach((pos, i) => put(ringLabels[i], pos[0], pos[1], sans, 1.08));
    put(sideLabels[0], -134, 1503, sans, 1.08);
    put(sideLabels[1], 3158, 1503, sans, 1.08);
    put('90', 1478, -45, sans, 1.08);
    put('W', 1610, -45, serif, 0.85);
    put('90', 1478, 3031, sans, 1.08);
    put('E', 1610, 3031, serif, 0.95);
    ctx.save();
    ctx.letterSpacing = '11px';
    put(opts.tag, -278, 246, '60px "DejaVu Sans"', 1);
    ctx.restore();
  }
};

function drawMap(id, width, levels, tag) {
  const datasets = [];
  // grid on top of the coast, coast on top of the fills
  ringLats.forEach(lat => {
    const pts = [];
    for (let lon = 0; lon <= 360; lon += 2) pts.push(planePoint(lat, lon));
    datasets.push(lineSet(pts, '#808080', 3, [3, 11]));
  });
  meridians.forEach(lon => {
    const top = lon % 90 === 0 ? 89.9 : 80;
    const pts = [];
    for (let lat = 20; lat <= top; lat += 2) pts.push(planePoint(lat, lon));
    pts.push(planePoint(top, lon));
    datasets.push(lineSet(pts, '#808080', 3, [3, 11]));
  });
  coastLines.forEach(c => datasets.push(lineSet(toPoints(c), '#000', 3)));
  const rim = [];
  for (let lon = 0; lon <= 360; lon += 2) rim.push(planePoint(20, lon));
  datasets.push(lineSet(rim, '#000', 3));
  levels.forEach(l => datasets.push(...fillSet(l[0], l[1])));

  const canvas = document.getElementById(id);
  canvas.width = width;
  canvas.height = 1110;
  new Chart(canvas, {
    type: 'scatter',
    data: { datasets },
    options: {
      responsive: false, animation: false, devicePixelRatio: 1,
      layout: { padding: 0 },
      plugins: { legend: { display: false }, tooltip: { enabled: false }, contourFill: { rim: true }, mapText: { tag } },
      scales: {
        x: { display: false, min: -560, max: -560 + width * 2.8 },
        y: { display: false, reverse: true, min: -150, max: 3180 }
      }
    },
    plugins: [contourFill, mapText]
  });
}

function drawBar(id, width, boxLeft, slot) {
  const n = barColors.length, datasets = [];
  const outline = [{ x: 0, y: 0 }, { x: n, y: 0 }, { x: n + 1, y: 0.5 }, { x: n, y: 1 }, { x: 0, y: 1 }, { x: -1, y: 0.5 }, { x: 0, y: 0 }];
  datasets.push(lineSet(outline, '#000', 4));
  for (let i = 0; i <= n; i++) datasets.push(lineSet([{ x: i, y: 0 }, { x: i, y: 1 }], '#000', 2));
  barColors.forEach((c, i) => datasets.push({
    data: [{ x: i, y: 0 }, { x: i + 1, y: 0 }, { x: i + 1, y: 1 }, { x: i, y: 1 }], fillColor: c, showLine: false, pointRadius: 0
  }));
  datasets.push({ data: [{ x: 0, y: 0 }, { x: -1, y: 0.5 }, { x: 0, y: 1 }], fillColor: lowEndColor, showLine: false, pointRadius: 0 });
  datasets.push({ data: [{ x: n, y: 0 }, { x: n + 1, y: 0.5 }, { x: n, y: 1 }], fillColor: highEndColor, showLine: false, pointRadius: 0 });

  const canvas = document.getElementById(id);
  canvas.width = width;
  canvas.height = 123;
  new Chart(canvas, {
    type: 'scatter',
    data: { datasets },
    options: {
      responsive: false, animation: false, devicePixelRatio: 1,
      layout: { padding: 0 },
      plugins: { legend: { display: false }, tooltip: { enabled: false }, contourFill: { rim: false } },
      scales: {
        x: {
          position: 'bottom',
          min: -boxLeft / slot,
          max: (width - boxLeft) / slot,
          afterBuildTicks: s => { s.ticks = barLabels.map((_, i) => ({ value: i })); },
          afterFit: s => { s.height = 73; },
          grid: { display: false, drawTicks: false },
          border: { display: false },
          ticks: {
            autoSkip: false, maxRotation: 0, padding: 4, color: '#000',
            font: { family: '"Liberation Sans"', size: 39 },
            callback: v => barLabels[Math.round(v)]
          }
        },
        y: { display: false, min: 0, max: 50 / 29 }
      }
    },
    plugins: [contourFill]
  });
}

drawMap('mapA', 1423, [['#fff9a8', aP1], ['#ffc02a', aP2], ['#ff6600', aP3], ['#ff1000', aP4], ['#df0000', aP5],
  ['#d2ffff', aN1], ['#75d3ff', aN2], ['#00a8fb', aN3], ['#0581f5', aN4], ['#0563d3', aN5]], '(a)');
drawMap('mapB', 1468, [['#d2ffff', bN1], ['#75d3ff', bN2], ['#00a8fb', bN3], ['#0581f5', bN4], ['#0563d3', bN5],
  ['#fff9a8', bP1], ['#ffc02a', bP2], ['#ff6600', bP3], ['#ff1000', bP4], ['#df0000', bP5]], '(b)');
drawBar('barA', 1457, 163, 129);
drawBar('barB', 1434, 131, 128.7);
</script>
</body>
</html>
